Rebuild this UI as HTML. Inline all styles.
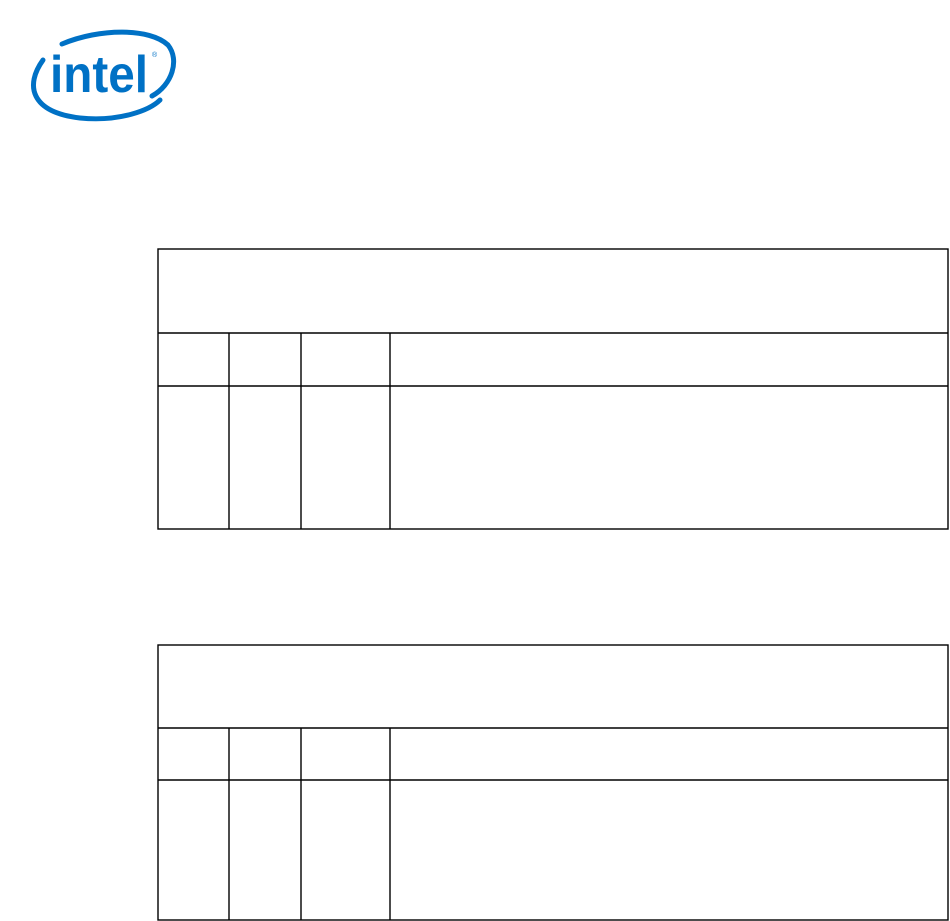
<!DOCTYPE html>
<html><head><meta charset="utf-8"><style>
html,body{margin:0;padding:0;background:#fff;width:950px;height:921px;overflow:hidden}
</style></head><body>
<svg width="950" height="921" viewBox="0 0 950 921" xmlns="http://www.w3.org/2000/svg">
<g fill="none" stroke="#0071c5" stroke-width="5" stroke-linecap="round">
<path d="M43 60 C 25 85, 30 112, 80 118 C 120 122, 150 110, 160 100"/>
<path d="M62 44 C 100 28, 150 28, 168 45 C 180 60, 172 85, 152 96"/>
</g>
<text x="50" y="92" font-family="Liberation Sans, sans-serif" font-size="52" font-weight="bold" fill="#0071c5" textLength="98" lengthAdjust="spacingAndGlyphs">intel</text>
<text x="152" y="57" font-family="Liberation Sans, sans-serif" font-size="7" fill="#0071c5">®</text>
<g stroke="#000" stroke-width="1.4" fill="none">
<rect x="158" y="249" width="790" height="280"/>
<line x1="158" y1="333" x2="948" y2="333"/>
<line x1="158" y1="386" x2="948" y2="386"/>
<line x1="229" y1="333" x2="229" y2="529"/>
<line x1="301" y1="333" x2="301" y2="529"/>
<line x1="390" y1="333" x2="390" y2="529"/>
<rect x="158" y="645" width="790" height="275"/>
<line x1="158" y1="728" x2="948" y2="728"/>
<line x1="158" y1="780" x2="948" y2="780"/>
<line x1="229" y1="728" x2="229" y2="920"/>
<line x1="301" y1="728" x2="301" y2="920"/>
<line x1="390" y1="728" x2="390" y2="920"/>
</g>
</svg>
</body></html>
